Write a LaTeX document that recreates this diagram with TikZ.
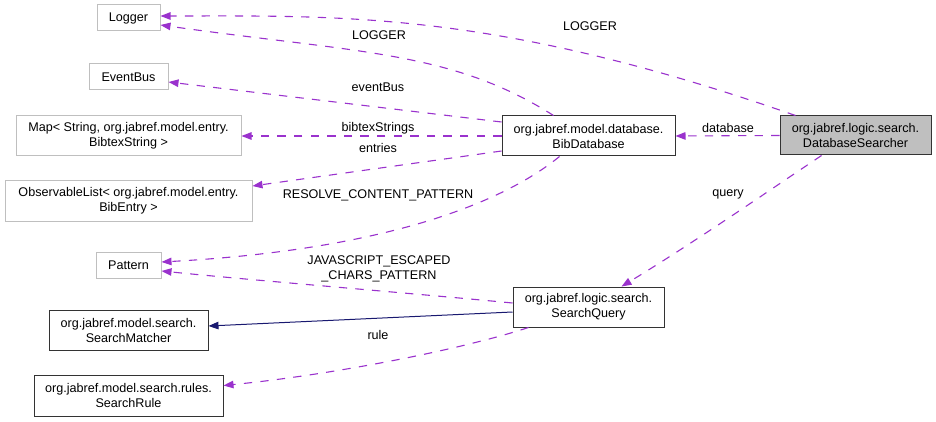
\documentclass[tikz,border=0pt]{standalone}
\usepackage{fontspec}
\setmainfont{Liberation Sans}
\usetikzlibrary{arrows.meta,calc}
\definecolor{purp}{HTML}{9A32CD}
\definecolor{navy}{HTML}{191970}
\definecolor{gry}{HTML}{BFBFBF}
\begin{document}
\begin{tikzpicture}[x=1pt,y=-1pt,
  every node/.style={font=\fontsize{12.6}{15}\selectfont},
  ext/.style={draw=gry, line width=1pt, fill=white, align=center, inner sep=0pt},
  cls/.style={draw=black!80, line width=1pt, fill=white, align=center, inner sep=0pt},
  dep/.style={draw=purp, line width=1.1pt, dash pattern=on 8.3pt off 8.3pt,
    -{Triangle[length=10pt,width=7.5pt,fill=purp]}},
  inh/.style={draw=navy, line width=1pt, -{Triangle[length=10pt,width=7.5pt,fill=navy]}},
  lbl/.style={inner sep=0pt, align=center}
]
\useasboundingbox (0,0) rectangle (936,422);

% nodes
\node[ext, minimum width=63pt, minimum height=26pt] (logger) at (128.5,18) {Logger};
\node[ext, minimum width=79pt, minimum height=26pt] (eventbus) at (128.5,77) {EventBus};
\node[ext, minimum width=225pt, minimum height=40pt] (map) at (128.5,136) {Map< String, org.jabref.model.entry.\\BibtexString >};
\node[ext, minimum width=247pt, minimum height=40pt] (obs) at (128.5,201) {ObservableList< org.jabref.model.entry.\\BibEntry >};
\node[ext, minimum width=65pt, minimum height=26pt] (pattern) at (128.5,265) {Pattern};
\node[cls, minimum width=159pt, minimum height=40pt] (matcher) at (128.5,330) {org.jabref.model.search.\\SearchMatcher};
\node[cls, minimum width=189pt, minimum height=41pt] (rule) at (128.5,395.5) {org.jabref.model.search.rules.\\SearchRule};
\node[cls, minimum width=173pt, minimum height=40pt] (bibdb) at (588.5,136) {org.jabref.model.database.\\BibDatabase};
\node[cls, fill=gry, minimum width=151pt, minimum height=39pt] (ds) at (855.5,135.5) {org.jabref.logic.search.\\DatabaseSearcher};
\node[cls, minimum width=151pt, minimum height=40pt] (sq) at (588.5,307) {org.jabref.logic.search.\\SearchQuery};

% edges
\draw[dep] ($(ds.north)+(-60,0)$) .. controls (493,10) and (341,16) .. ($(logger.east)+(0,-2)$);
\node[lbl] (l1) at (590,26) {LOGGER};

\draw[dep] ($(bibdb.north)+(-35,0)$) .. controls (452,51) and (359,53) .. ($(logger.east)+(0,7)$);
\node[lbl] (l2) at (379,35) {LOGGER};

\draw[dep] ($(bibdb.west)+(0,-14)$) -- ($(eventbus.east)+(0,5)$);
\node[lbl] (l3) at (378,87) {eventBus};

\draw[dep] (bibdb.west) -- (map.east);
\node[lbl] (l4) at (378,128) {bibtexStrings};

\draw[dep] ($(bibdb.west)+(0,15)$) -- ($(obs.east)+(0,-15)$);
\node[lbl] (l5) at (378,148) {entries};

\draw[dep] ($(bibdb.south)+(-29,0)$) .. controls (500,205) and (380,250) .. ($(pattern.east)+(0,-3)$);
\node[lbl] (l6) at (378,195) {RESOLVE\_CONTENT\_PATTERN};

\draw[dep] ($(sq.west)+(0,-4)$) .. controls (420,294) and (250,280) .. ($(pattern.east)+(0,6)$);
\node[lbl] (l7) at (379,269) {JAVASCRIPT\_ESCAPED\\\_CHARS\_PATTERN};

\draw[inh] ($(sq.west)+(0,5)$) -- ($(matcher.east)+(0,-4)$);

\draw[dep] ($(sq.south)+(-60,0)$) .. controls (460,350) and (330,375) .. ($(rule.east)+(0,-10)$);
\node[lbl] (l9) at (378,335) {rule};

\draw[dep] (ds.west) -- (bibdb.east);
\node[lbl] (l10) at (728,128) {database};

\draw[dep] ($(ds.south)+(-34,0)$) .. controls (770,190) and (690,245) .. ($(sq.north)+(33,0)$);
\node[lbl] (l11) at (728,194) {query};
\end{tikzpicture}
\end{document}
